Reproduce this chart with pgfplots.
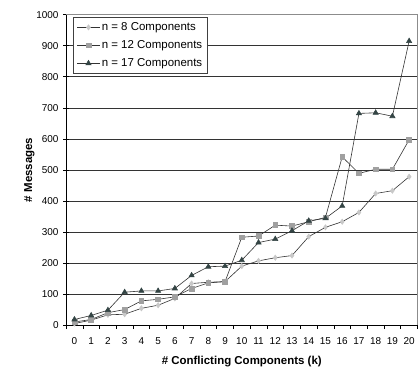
\documentclass[border=0pt]{standalone}
\usepackage{pgfplots}
\pgfplotsset{compat=1.18}
\usepackage{fontspec}
\setmainfont{Liberation Sans}
\definecolor{cEight}{HTML}{C8C8C8}
\definecolor{cTwelve}{HTML}{A0A0A0}
\definecolor{cSeventeen}{HTML}{334444}
\begin{document}
\begin{tikzpicture}[x=1bp,y=1bp]
\begin{axis}[
  name=ax,
  /pgf/number format/assume math mode=true,
  /pgf/number format/1000 sep={},
  scale only axis,
  width=351bp, height=310bp,
  xmin=-0.5, xmax=20.5,
  ymin=0, ymax=1000,
  xtick={0,...,20},
  major x tick style={draw=none},
  minor xtick={-0.5,0.5,...,20.5},
  minor x tick style={black, line width=0.6pt},
  minor tick length=4bp,
  x tick label style={font=\fontsize{10}{12}\selectfont, yshift=-3bp},
  ytick={0,100,...,1000},
  y tick label style={font=\fontsize{10}{12}\selectfont, xshift=-1bp},
  ymajorgrids,
  major grid style={black!80, line width=0.6pt},
  major tick length=6bp,
  ytick align=center,
  xtick align=outside,
  tick style={black, line width=0.6pt},
  axis x line*=bottom,
  axis y line*=left,
  axis line style={black, line width=0.7pt},
  xlabel={\bfseries \# Conflicting Components (k)},
  ylabel={\bfseries \# Messages},
  label style={font=\fontsize{11.5}{13}\selectfont},
  xlabel style={at={(axis description cs:0.5,-0.1184)}, anchor=center},
  ylabel style={at={(axis description cs:-0.1046,0.5)}, anchor=center, rotate=0},
  legend style={at={(rel axis cs:0,1)}, anchor=north west, xshift=7.3bp, yshift=-2.6bp,
    font=\fontsize{11.5}{13}\selectfont, draw=black!75, line width=0.6pt,
    row sep=4.5bp, inner sep=3pt, inner xsep=3.5pt},
  legend cell align=left,
  legend image code/.code={\draw[mark repeat=2,mark phase=2] plot coordinates {(0bp,0bp) (11bp,0bp) (22bp,0bp)};},
  every axis plot/.append style={line width=0.6pt},
  clip=false,
]
\draw[black!45, line width=0.8pt] (rel axis cs:0,1) -- (rel axis cs:1,1) -- (rel axis cs:1,0);
\addplot[black!80, mark=diamond*, mark size=2.6pt, mark options={fill=cEight, draw=cEight}] coordinates {
(0,5) (1,16) (2,33) (3,35) (4,54) (5,64) (6,86) (7,134) (8,138) (9,140) (10,190)
(11,207) (12,217) (13,224) (14,285) (15,315) (16,333) (17,363) (18,424) (19,433) (20,478)};
\addlegendentry{n = 8 Components}
\addplot[black!80, mark=square*, mark size=2.4pt, mark options={fill=cTwelve, draw=cTwelve}] coordinates {
(0,10) (1,18) (2,40) (3,50) (4,78) (5,83) (6,91) (7,118) (8,136) (9,140) (10,283)
(11,287) (12,322) (13,319) (14,333) (15,347) (16,542) (17,489) (18,502) (19,502) (20,597)};
\addlegendentry{n = 12 Components}
\addplot[black!80, mark=triangle*, mark size=3pt, mark options={fill=cSeventeen, draw=cSeventeen}] coordinates {
(0,18) (1,31) (2,48) (3,106) (4,110) (5,110) (6,118) (7,160) (8,188) (9,190) (10,209)
(11,266) (12,277) (13,304) (14,336) (15,344) (16,384) (17,682) (18,684) (19,673) (20,915)};
\addlegendentry{n = 17 Components}
\end{axis}
\pgfresetboundingbox
\path ([xshift=-66bp,yshift=-47bp]ax.south west) rectangle ([xshift=1.5bp,yshift=14.7bp]ax.north east);
\end{tikzpicture}
\end{document}
